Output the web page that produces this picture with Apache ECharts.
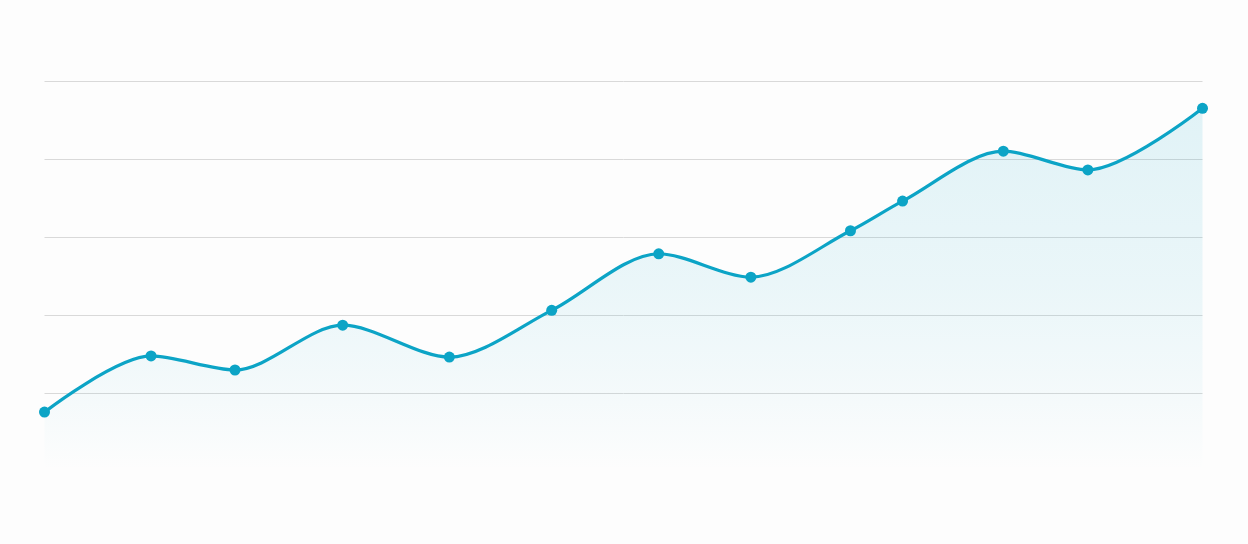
<!DOCTYPE html>
<html>
<head>
<meta charset="utf-8">
<script src="https://cdn.jsdelivr.net/npm/echarts@6/dist/echarts.min.js"></script>
<style>
html,body{margin:0;padding:0;background:#fdfdfd;}
#chart{width:1248px;height:544px;}
</style>
</head>
<body>
<div id="chart"></div>
<script>
const xValues = [0, 9.2, 16.45, 25.75, 34.96, 43.8, 53.04, 61.0, 69.6, 74.1, 82.8, 90.1, 100];
const yValues = [75.5, 147.5, 129.5, 187, 146, 206, 278.5, 248.5, 308, 346, 410, 386, 465];
const yTicks = [0, 100, 200, 300, 400, 500];

const data = xValues.map((x, i) => [x, yValues[i]]);
const chart = echarts.init(document.getElementById('chart'));
chart.setOption({
  backgroundColor: '#fdfdfd',
  animation: false,
  grid: { left: 44.5, right: 45.5, top: 81, bottom: 73, containLabel: false },
  xAxis: {
    type: 'value', min: 0, max: 100,
    axisLine: { show: false }, axisTick: { show: false },
    axisLabel: { show: false }, splitLine: { show: false }
  },
  yAxis: {
    type: 'value', min: yTicks[0], max: yTicks[yTicks.length - 1], interval: 100,
    axisLine: { show: false }, axisTick: { show: false }, axisLabel: { show: false },
    splitLine: { show: true, lineStyle: { color: ['transparent', '#d9d9d9', '#d9d9d9', '#d9d9d9', '#d9d9d9', '#d9d9d9'], width: 1 } }
  },
  series: [{
    type: 'line',
    data: data,
    smooth: 0.3,
    symbol: 'circle',
    symbolSize: 11,
    lineStyle: { color: '#0ca4c6', width: 3.2 },
    itemStyle: { color: '#0ca4c6' },
    areaStyle: {
      color: new echarts.graphic.LinearGradient(0, 0, 0, 1, [
        { offset: 0, color: 'rgba(12,164,198,0.17)' },
        { offset: 0.5, color: 'rgba(12,164,198,0.11)' },
        { offset: 0.8, color: 'rgba(12,164,198,0.05)' },
        { offset: 1, color: 'rgba(12,164,198,0)' }
      ])
    }
  }]
});
</script>
</body>
</html>
